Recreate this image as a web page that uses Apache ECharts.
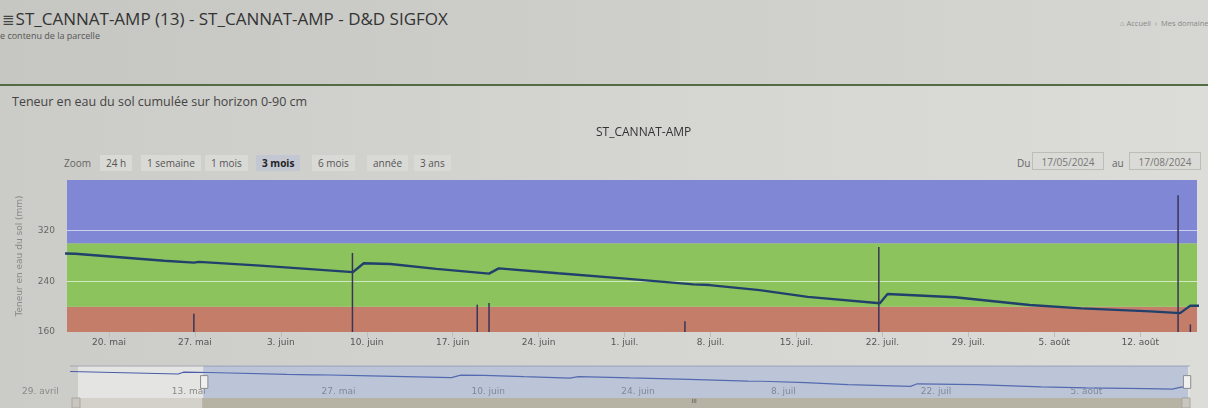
<!DOCTYPE html>
<html>
<head>
<meta charset="utf-8">
<title>ST_CANNAT-AMP</title>
<script src="https://cdn.jsdelivr.net/npm/echarts@6/dist/echarts.min.js"></script>
<style>
  html, body { margin: 0; padding: 0; }
  body {
    width: 1208px; height: 408px; overflow: hidden; position: relative;
    font-family: "Open Sans", sans-serif;
    background: linear-gradient(90deg, #cbcbc7 0%, #d5d5d1 55%, #dcdcd8 100%);
  }
  .abs { position: absolute; white-space: nowrap; }
  #top { left: 0; top: 0; width: 1208px; height: 84px; background: linear-gradient(90deg, #c6c6c2 0%, #cfcfcb 60%, #d6d6d2 100%); }
  #rule { left: 0; top: 84px; width: 1208px; height: 2px; background: #526d44; }
  #title { left: 2px; top: 8px; font-size: 17px; line-height: 22px; color: #333; }
  #title .ico { font-family: "DejaVu Sans"; font-size: 15px; color: #444; margin-right: 1px; }
  #sub { left: 0; top: 30px; font-size: 9px; line-height: 12px; color: #555; }
  #crumb { left: 1120px; top: 18px; font-size: 7.5px; line-height: 10px; color: #8a8a8a; }
  #section { left: 12px; top: 94px; font-size: 12.5px; line-height: 16px; color: #444; }
  .btn { top: 155px; height: 16px; line-height: 16px; font-size: 10px; color: #555; padding: 0 6px; background: #d9d9d5; }
  .btn.sel { background: #c2c7d1; color: #222; font-weight: bold; }
  #zoomlbl { left: 64px; top: 155px; line-height: 16px; font-size: 10px; color: #666; }
  .lbl { top: 155px; line-height: 16px; font-size: 10px; color: #666; }
  .date { top: 152px; height: 18px; line-height: 18px; font-size: 10px; color: #777; border: 1px solid #bdbdb8; text-align: center; box-sizing: border-box; background: #dadad6; }
  #chart { position: absolute; left: 0; top: 0; width: 1208px; height: 408px; }
</style>
</head>
<body>
<div class="abs" id="top"></div>
<div class="abs" id="rule"></div>
<div class="abs" id="title"><span class="ico">≣</span>ST_CANNAT-AMP (13) - ST_CANNAT-AMP - D&amp;D SIGFOX</div>
<div class="abs" id="sub">e contenu de la parcelle</div>
<div class="abs" id="crumb">⌂ Accueil &nbsp;›&nbsp; Mes domaines</div>
<div class="abs" id="section">Teneur en eau du sol cumulée sur horizon 0-90 cm</div>

<div class="abs" id="zoomlbl">Zoom</div>
<div class="abs btn" style="left:100px">24 h</div>
<div class="abs btn" style="left:141px">1 semaine</div>
<div class="abs btn" style="left:205px">1 mois</div>
<div class="abs btn sel" style="left:256px">3 mois</div>
<div class="abs btn" style="left:312px">6 mois</div>
<div class="abs btn" style="left:367px">année</div>
<div class="abs btn" style="left:414px">3 ans</div>

<div class="abs lbl" style="left:1017px">Du</div>
<div class="abs date" style="left:1032px;width:72px">17/05/2024</div>
<div class="abs lbl" style="left:1112px">au</div>
<div class="abs date" style="left:1129px;width:72px">17/08/2024</div>

<div id="chart"></div>

<script>
// soil water content (mm), cumulated 0-90 cm
const soilDates = [
  '2024-05-04 06:00', '2024-05-14 08:00', '2024-05-14 20:00', '2024-05-17 06:00',
  '2024-05-24 12:00', '2024-05-26 22:00', '2024-05-27 08:00', '2024-06-01 08:00',
  '2024-06-08 21:00', '2024-06-09 00:00', '2024-06-09 18:00', '2024-06-11 22:00',
  '2024-06-15 16:00', '2024-06-19 23:00', '2024-06-20 18:00', '2024-06-25 14:00',
  '2024-07-01 02:00', '2024-07-06 14:00', '2024-07-07 22:00', '2024-07-12 00:00',
  '2024-07-15 22:00', '2024-07-21 19:00', '2024-07-22 10:00', '2024-07-27 22:00',
  '2024-08-03 00:00', '2024-08-07 05:00', '2024-08-12 20:00', '2024-08-15 06:00',
  '2024-08-16 02:00', '2024-08-17 12:00'
];
const soilValues = [
  289, 275, 285, 283.5,
  272.6, 269.6, 270.8, 264.8,
  254.6, 253.8, 268.5, 267.4,
  259.7, 252.2, 260.5, 252.7,
  244.3, 235.2, 234.1, 226.2,
  215.5, 205.5, 220, 214.9,
  202.6, 197.3, 192.5, 189.8,
  201.6, 201.5
];
// rain (mm)
const rainDates = [
  '2024-05-26 22:00', '2024-06-08 20:00', '2024-06-19 00:00', '2024-06-19 23:00',
  '2024-07-05 22:00', '2024-07-21 17:00', '2024-08-15 02:00', '2024-08-16 02:00'
];
const rainValues = [6, 26, 9, 9.5, 3.5, 28, 45, 2.5];

// soil reserve zones (mm)
const zoneLimits = [160, 200, 300, 400];

const tickDates = ['2024-05-20', '2024-05-27', '2024-06-03', '2024-06-10', '2024-06-17', '2024-06-24',
  '2024-07-01', '2024-07-08', '2024-07-15', '2024-07-22', '2024-07-29', '2024-08-05', '2024-08-12'];
const tickLabels = ['20. mai', '27. mai', '3. juin', '10. juin', '17. juin', '24. juin',
  '1. juil.', '8. juil.', '15. juil.', '22. juil.', '29. juil.', '5. août', '12. août'];
const navTickDates = ['2024-04-29', '2024-05-13', '2024-05-27', '2024-06-10', '2024-06-24',
  '2024-07-08', '2024-07-22', '2024-08-05'];
const navTickLabels = ['29. avril', '13. mai', '27. mai', '10. juin', '24. juin', '8. juil', '22. juil', '5. août'];

const rangeStart = '2024-04-29';
const rangeEnd = '2024-08-16 15:00';
const windowStart = '2024-05-16 14:00';
const windowEnd = '2024-08-16 15:00';

function ts(s) {
  if (s.length === 10) s += ' 00:00';
  return new Date(s.replace(' ', 'T') + ':00').getTime();
}

const soilData = soilDates.map((d, i) => [ts(d), soilValues[i]]);
const rainData = rainDates.map((d, i) => [ts(d), rainValues[i]]);
const tickTs = tickDates.map(ts);
const navTickTs = navTickDates.map(ts);

function labelFor(list, labels) {
  return function (v) {
    const i = list.indexOf(v);
    return i < 0 ? '' : labels[i];
  };
}

const zoneColors = ['#c47d69', '#8dc35d', '#8088d5'];
const zones = [];
for (let i = 0; i < zoneLimits.length - 1; i++) {
  zones.push([{ yAxis: zoneLimits[i], itemStyle: { color: zoneColors[i], opacity: 1 } }, { yAxis: zoneLimits[i + 1] }]);
}

const chart = echarts.init(document.getElementById('chart'), null, { renderer: 'canvas' });

chart.setOption({
  animation: false,
  backgroundColor: 'transparent',
  title: {
    text: 'ST_CANNAT-AMP',
    left: 591,
    top: 122,
    textStyle: { color: '#333', fontSize: 12, fontWeight: 'normal', fontFamily: 'Open Sans' }
  },
  grid: [
    { left: 67, right: 11, top: 180, height: 152 },
    { left: 14, width: 1173, top: 366, height: 32 }
  ],
  xAxis: [{
    // timestamps on a value axis, labelled with the weekly ticks
    type: 'value',
    gridIndex: 0,
    min: ts(rangeStart),
    max: ts(rangeEnd),
    axisLine: { show: false },
    axisTick: { show: true, length: 5, customValues: tickTs, lineStyle: { color: '#bdbdbd' } },
    axisLabel: {
      customValues: tickTs,
      formatter: labelFor(tickTs, tickLabels),
      color: '#555',
      fontSize: 9,
      fontFamily: 'DejaVu Sans',
      margin: 6
    },
    splitLine: { show: false }
  }, {
    type: 'value',
    gridIndex: 1,
    min: ts(rangeStart),
    max: ts(rangeEnd),
    axisLine: { show: false },
    axisTick: { show: false },
    axisLabel: {
      inside: true,
      customValues: navTickTs,
      formatter: labelFor(navTickTs, navTickLabels),
      align: 'left',
      padding: [0, 0, 0, 8],
      color: '#8a8a8a',
      fontSize: 9,
      fontFamily: 'DejaVu Sans',
      margin: 2
    },
    splitLine: { show: false }
  }],
  yAxis: [{
    type: 'value',
    gridIndex: 0,
    min: 160,
    max: 400,
    interval: 80,
    z: 2,
    name: 'Teneur en eau du sol (mm)',
    nameLocation: 'middle',
    nameGap: 43,
    nameTextStyle: { color: '#888', fontSize: 9, fontFamily: 'DejaVu Sans' },
    axisLine: { show: false },
    axisTick: { show: false },
    axisLabel: { color: '#666', fontSize: 9, fontFamily: 'DejaVu Sans', margin: 12, showMaxLabel: false },
    splitLine: {
      show: true,
      showMinLine: false,
      showMaxLine: false,
      lineStyle: { color: 'rgba(255,255,255,0.6)', width: 1 }
    }
  }, {
    type: 'value',
    gridIndex: 0,
    min: 0,
    max: 50,
    show: false
  }, {
    type: 'value',
    gridIndex: 1,
    min: 140,
    max: 320,
    show: false
  }],
  dataZoom: [{
    type: 'slider',
    xAxisIndex: 0,
    filterMode: 'none',
    startValue: ts(windowStart),
    endValue: ts(windowEnd),
    left: 14,
    width: 1173,
    top: 366,
    height: 32,
    backgroundColor: 'transparent',
    borderColor: 'transparent',
    fillerColor: 'rgba(102,133,194,0.32)',
    showDataShadow: false,
    showDetail: false,
    brushSelect: false,
    moveHandleSize: 0,
    moveHandleStyle: { opacity: 0 },
    handleIcon: 'path://M0,0h8v14h-8z',
    handleSize: '40%',
    handleStyle: { color: '#f0f0f0', borderColor: '#8c8c8c', borderWidth: 1 },
    z: 6
  }],
  series: [{
    name: 'zones',
    type: 'line',
    xAxisIndex: 0,
    yAxisIndex: 0,
    z: 1,
    silent: true,
    symbol: 'none',
    data: soilData,
    lineStyle: { opacity: 0 },
    markArea: { silent: true, data: zones }
  }, {
    name: 'Pluie',
    type: 'bar',
    xAxisIndex: 0,
    yAxisIndex: 1,
    z: 3,
    barWidth: 1.5,
    data: rainData,
    itemStyle: { color: '#3a3458' }
  }, {
    name: 'Teneur en eau du sol',
    type: 'line',
    xAxisIndex: 0,
    yAxisIndex: 0,
    z: 4,
    symbol: 'none',
    data: soilData,
    lineStyle: { color: '#22406c', width: 2.4 }
  }, {
    name: 'navigator',
    type: 'line',
    xAxisIndex: 1,
    yAxisIndex: 2,
    z: 3,
    silent: true,
    symbol: 'none',
    data: soilData,
    lineStyle: { color: '#4a5ca8', width: 1.2 }
  }]
});

// navigator background and scrollbar
const x0 = chart.convertToPixel({ xAxisIndex: 1 }, ts(windowStart));
const x1 = chart.convertToPixel({ xAxisIndex: 1 }, ts(windowEnd));
chart.setOption({
  graphic: [
    { type: 'rect', z: 0, shape: { x: 78, y: 366, width: 1112, height: 32 }, style: { fill: '#e4e4e2' } },
    { type: 'line', z: 1, shape: { x1: 70, y1: 366, x2: 1190, y2: 366 }, style: { stroke: '#a6a8b8', lineWidth: 1 } },
    { type: 'rect', z: 0, shape: { x: 72, y: 398, width: 1118, height: 10 }, style: { fill: '#d3d1ca' } },
    { type: 'rect', z: 1, shape: { x: x0, y: 398, width: x1 - x0, height: 10 }, style: { fill: '#b6b2a4' } },
    { type: 'rect', z: 2, shape: { x: 72, y: 398, width: 8, height: 10 }, style: { fill: '#c8c6bf', stroke: '#a9a79f' } },
    { type: 'rect', z: 2, shape: { x: 1182, y: 398, width: 8, height: 10 }, style: { fill: '#c8c6bf', stroke: '#a9a79f' } },
    { type: 'text', z: 2, left: (x0 + x1) / 2 - 3, top: 398, style: { text: 'III', fill: '#555', fontSize: 6, fontFamily: 'DejaVu Sans' } }
  ]
});
</script>
</body>
</html>
